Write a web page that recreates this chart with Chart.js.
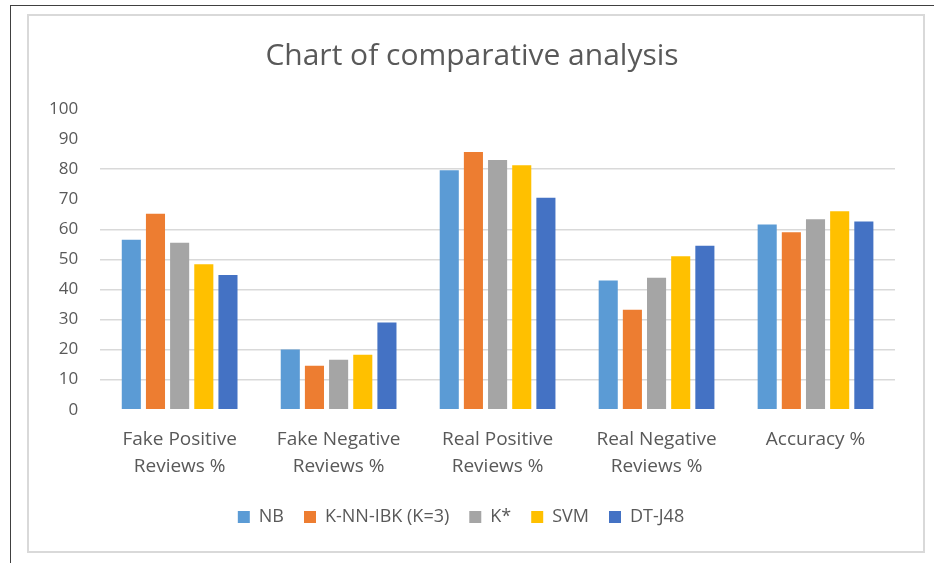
<!DOCTYPE html>
<html>
<head>
<meta charset="utf-8">
<script src="https://cdn.jsdelivr.net/npm/chart.js@4/dist/chart.umd.min.js"></script>
<style>
  html, body { margin: 0; padding: 0; background: #ffffff; }
  #wrap { position: relative; width: 934px; height: 563px; overflow: hidden; background: #fff; }
  #c { position: absolute; left: 0; top: 0; }
  .outerTop { position: absolute; left: 10px; top: 5px; width: 924px; height: 0; border-top: 1.5px solid #404040; }
  .outerLeft { position: absolute; left: 10px; top: 5px; width: 0; height: 558px; border-left: 1.5px solid #404040; }
  .inner { position: absolute; left: 27px; top: 14px; width: 894px; height: 535px; border: 2px solid #d9d9d9; pointer-events: none; }
</style>
</head>
<body>
<div id="wrap">
  <canvas id="c" width="934" height="563"></canvas>
  <div class="outerTop"></div>
  <div class="outerLeft"></div>
  <div class="inner"></div>
</div>
<script>
const categories = [
  ['Fake Positive', 'Reviews %'],
  ['Fake Negative', 'Reviews %'],
  ['Real Positive', 'Reviews %'],
  ['Real Negative', 'Reviews %'],
  'Accuracy %'
];
const seriesNames = ['NB', 'K-NN-IBK (K=3)', 'K*', 'SVM', 'DT-J48'];
const nbValues   = [56.5, 20.0, 79.6, 43.0, 61.6];
const knnValues  = [65.2, 14.6, 85.7, 33.2, 59.0];
const kstarValues= [55.5, 16.6, 83.0, 43.9, 63.3];
const svmValues  = [48.4, 18.3, 81.3, 51.0, 66.0];
const dtValues   = [44.8, 29.0, 70.5, 54.5, 62.6];
const seriesColors = ['#5B9BD5', '#ED7D31', '#A5A5A5', '#FFC000', '#4472C4'];
const yTicks = [0, 10, 20, 30, 40, 50, 60, 70, 80, 90, 100];

const allValues = [nbValues, knnValues, kstarValues, svmValues, dtValues];
const datasets = seriesNames.map((name, i) => ({
  label: name,
  data: allValues[i],
  backgroundColor: seriesColors[i],
  borderWidth: 0,
  categoryPercentage: 0.76,
  barPercentage: 0.79
}));

const FONT = '"Open Sans", "Liberation Sans", sans-serif';
const hiddenGrid = [0, 70, 90, 100];

// shift the title block so it is centred like the reference
const titleShift = {
  id: 'titleShift',
  afterLayout(chart) {
    if (chart.titleBlock) {
      chart.titleBlock.left += 11;
      chart.titleBlock.right += 11;
    }
  }
};

new Chart(document.getElementById('c'), {
  type: 'bar',
  data: { labels: categories, datasets: datasets },
  plugins: [titleShift],
  options: {
    responsive: false,
    animation: false,
    layout: { padding: { left: 27, right: 39, top: 0, bottom: 27 } },
    plugins: {
      title: {
        display: true,
        text: 'Chart of comparative analysis',
        color: '#595959',
        font: { family: FONT, size: 30, weight: 'normal' },
        padding: { top: 38, bottom: 35 }
      },
      legend: {
        display: true,
        position: 'bottom',
        labels: {
          color: '#595959',
          font: { family: FONT, size: 18 },
          boxWidth: 12,
          boxHeight: 12,
          padding: 20
        }
      },
      tooltip: { enabled: false }
    },
    scales: {
      x: {
        grid: { display: false, drawTicks: false },
        border: { display: false },
        ticks: {
          color: '#595959',
          font: { family: FONT, size: 19, lineHeight: 1.43 },
          padding: 16,
          maxRotation: 0,
          autoSkip: false
        },
        afterFit: (scale) => { scale.height -= 8; }
      },
      y: {
        min: 0,
        max: 100,
        afterBuildTicks: (scale) => { scale.ticks = yTicks.map(v => ({ value: v })); },
        grid: {
          drawTicks: false,
          lineWidth: 1.5,
          color: (ctx) => (ctx.tick && hiddenGrid.includes(ctx.tick.value)) ? 'rgba(0,0,0,0)' : '#d9d9d9'
        },
        border: { display: false },
        ticks: {
          color: '#595959',
          font: { family: FONT, size: 17 },
          padding: 22
        }
      }
    }
  }
});
</script>
</body>
</html>
